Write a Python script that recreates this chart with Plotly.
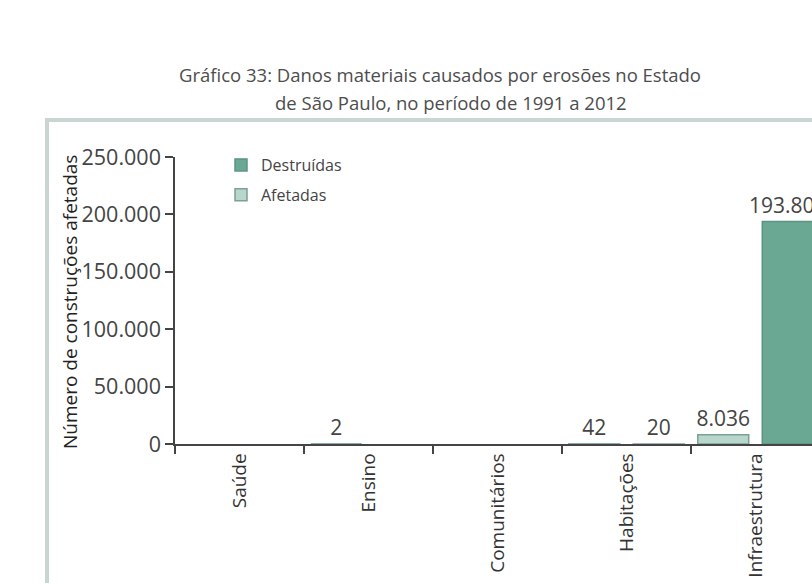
import plotly.graph_objects as go

categories = ["Saúde", "Ensino", "Comunitários", "Habitações", "Infraestrutura"]
destruidas = [None, 2, None, 42, 8036]
afetadas = [None, None, None, 20, 193805]

title_line1 = "Gráfico 33: Danos materiais causados por erosões no Estado"
title_line2 = "de São Paulo, no período de 1991 a 2012"
y_title = "Número de construções afetadas"

DARK_FILL = "#6aa893"
DARK_LINE = "#5b9482"
LIGHT_FILL = "#b7d7cd"
LIGHT_LINE = "#7f9f95"

dest_fill = [DARK_FILL, DARK_FILL, DARK_FILL, DARK_FILL, LIGHT_FILL]
dest_line = [DARK_LINE, DARK_LINE, DARK_LINE, DARK_LINE, LIGHT_LINE]
afet_fill = [LIGHT_FILL, LIGHT_FILL, LIGHT_FILL, LIGHT_FILL, DARK_FILL]
afet_line = [LIGHT_LINE, LIGHT_LINE, LIGHT_LINE, LIGHT_LINE, DARK_LINE]

W, H = 812, 583
L, R, T, B = 175, 0, 157, 139
pw = W - L - R
ph = H - T - B


def px(x):
    return (x - L) / pw


def py(y):
    return (H - B - y) / ph


bar_text_font = dict(family="Open Sans", size=21, color="#444444")

fig = go.Figure()
fig.add_trace(go.Bar(
    name="Destruídas", x=categories, y=destruidas,
    marker=dict(color=dest_fill, line=dict(color=dest_line, width=1.5)),
    texttemplate="%{y:,d}", textposition="outside", cliponaxis=False,
    constraintext="none", textfont=bar_text_font,
    legendgroup="d",
))
fig.add_trace(go.Bar(
    name="Afetadas", x=categories, y=afetadas,
    marker=dict(color=afet_fill, line=dict(color=afet_line, width=1.5)),
    texttemplate="%{y:,d}", textposition="outside", cliponaxis=False,
    constraintext="none", textfont=bar_text_font,
    legendgroup="a",
))

n_vis = pw / 129.0
fig.update_layout(
    width=W, height=H,
    margin=dict(l=L, r=R, t=T, b=B, pad=0),
    paper_bgcolor="white", plot_bgcolor="white",
    separators=",.",
    barmode="group", bargap=0.0, bargroupgap=0.21,
    showlegend=True,
    legend=dict(
        x=px(221), y=py(148), xanchor="left", yanchor="top",
        font=dict(family="Open Sans", size=16, color="#444444"),
        bgcolor="rgba(0,0,0,0)", tracegroupgap=6, traceorder="grouped",
    ),
    xaxis=dict(
        type="category", range=[-0.5, -0.5 + n_vis],
        showline=True, linecolor="#444444", linewidth=1.5,
        ticks="outside", ticklen=8, tickcolor="#444444", tickwidth=1.5,
        tickson="boundaries", tickangle=-90,
        tickfont=dict(family="Open Sans", size=19, color="#333333"),
        showgrid=False, zeroline=False, automargin=False,
    ),
    yaxis=dict(
        range=[0, 250000], tickvals=[0, 50000, 100000, 150000, 200000, 250000],
        tickformat=",d",
        showline=True, linecolor="#444444", linewidth=1.5,
        ticks="outside", ticklen=8, tickcolor="#444444", tickwidth=1.5,
        tickfont=dict(family="Open Sans", size=21.5, color="#444444"),
        showgrid=False, zeroline=False, automargin=False,
    ),
    shapes=[dict(
        type="rect", xref="paper", yref="paper", layer="below",
        x0=px(47), x1=px(W + 60), y0=py(H + 60), y1=py(120),
        line=dict(color="#c8d5d1", width=4), fillcolor="rgba(0,0,0,0)",
    )],
    annotations=[
        dict(text=title_line1, xref="paper", yref="paper", x=px(440), y=py(75),
             xanchor="center", yanchor="middle", showarrow=False,
             font=dict(family="Open Sans", size=18.5, color="#4d4d4d")),
        dict(text=title_line2, xref="paper", yref="paper", x=px(451), y=py(102),
             xanchor="center", yanchor="middle", showarrow=False,
             font=dict(family="Open Sans", size=18.5, color="#4d4d4d")),
        dict(text=y_title, xref="paper", yref="paper", x=px(70), y=py(302),
             xanchor="center", yanchor="middle", textangle=-90, showarrow=False,
             font=dict(family="Open Sans", size=19, color="#222222")),
    ],
)

fig.write_html("out.html")
